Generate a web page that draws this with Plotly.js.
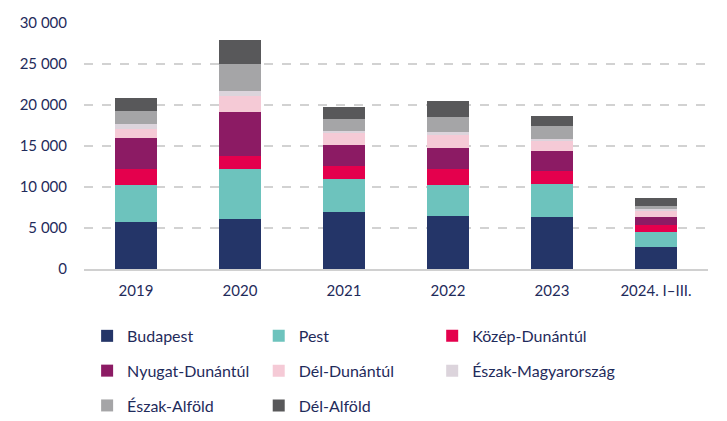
<!DOCTYPE html>
<html><head><meta charset="utf-8">
<script src="https://cdn.plot.ly/plotly-3.0.1.min.js"></script>
<style>html,body{margin:0;padding:0;background:#fff;}#chart{width:727px;height:421px;}</style>
</head><body><div id="chart"></div>
<script>
var categories = ["2019", "2020", "2021", "2022", "2023", "2024. I–III."];
var budapest   = [5700, 6100, 6900, 6450, 6300, 2700];
var pest       = [4550, 6050, 4100, 3750, 4050, 1800];
var kozepDunantul = [1950, 1600, 1550, 1950, 1550, 900];
var nyugatDunantul = [3750, 5350, 2600, 2550, 2450, 980];
var delDunantul = [1150, 2000, 1400, 1600, 1200, 730];
var eszakMagyarorszag = [550, 600, 300, 400, 350, 160];
var eszakAlfold = [1600, 3350, 1450, 1850, 1600, 450];
var delAlfold  = [1600, 2850, 1500, 1900, 1100, 950];

var names = ["Budapest", "Pest", "Közép-Dunántúl", "Nyugat-Dunántúl", "Dél-Dunántúl", "Észak-Magyarország", "Észak-Alföld", "Dél-Alföld"];
var series = [budapest, pest, kozepDunantul, nyugatDunantul, delDunantul, eszakMagyarorszag, eszakAlfold, delAlfold];
var colors = ["#243568", "#6dc3bd", "#e4004d", "#8c1b64", "#f5cad6", "#dcd4dc", "#a5a5a7", "#58585a"];
var legendOf = ["legend", "legend2", "legend3", "legend", "legend2", "legend3", "legend", "legend2"];

var txt = "#1f2b5b";
var fam = "Lato, 'Open Sans', sans-serif";
var traces = series.map(function (vals, i) {
  return {
    type: "bar", x: categories, y: vals, name: names[i],
    marker: {color: colors[i], line: {width: 0}},
    legend: legendOf[i], legendgroup: "g" + i,
    hoverinfo: "name+y"
  };
});

function leg(x) {
  return {
    x: x, y: -0.203, xanchor: "left", yanchor: "top",
    orientation: "v", traceorder: "grouped", tracegroupgap: 11,
    font: {family: fam, size: 16, color: txt},
    bgcolor: "rgba(0,0,0,0)"
  };
}

var layout = {
  width: 727, height: 421,
  margin: {l: 84, r: 19, t: 23, b: 152, autoexpand: false},
  paper_bgcolor: "#fff", plot_bgcolor: "#fff",
  barmode: "stack", bargap: 0.6,
  separators: ", ",
  font: {family: fam, size: 15, color: txt},
  showlegend: true,
  xaxis: {
    type: "category", showgrid: false, zeroline: false,
    showline: true, linecolor: "#d0d0d0", linewidth: 1.5,
    ticks: "", tickfont: {size: 15, color: txt}, ticklabelstandoff: 7,
    automargin: false
  },
  yaxis: {
    range: [0, 30000], dtick: 5000, tick0: 0,
    tickformat: ",d", separatethousands: true,
    showgrid: true, gridcolor: "#d2d2d2", gridwidth: 1.5, griddash: "dash",
    zeroline: false, showline: false, ticks: "",
    tickfont: {size: 15, color: txt}, ticklabelstandoff: 16,
    automargin: false
  },
  legend: leg(0.005),
  legend2: leg(0.28),
  legend3: leg(0.558)
};

Plotly.newPlot("chart", traces, layout, {displayModeBar: false, staticPlot: true});
</script>
</body></html>
